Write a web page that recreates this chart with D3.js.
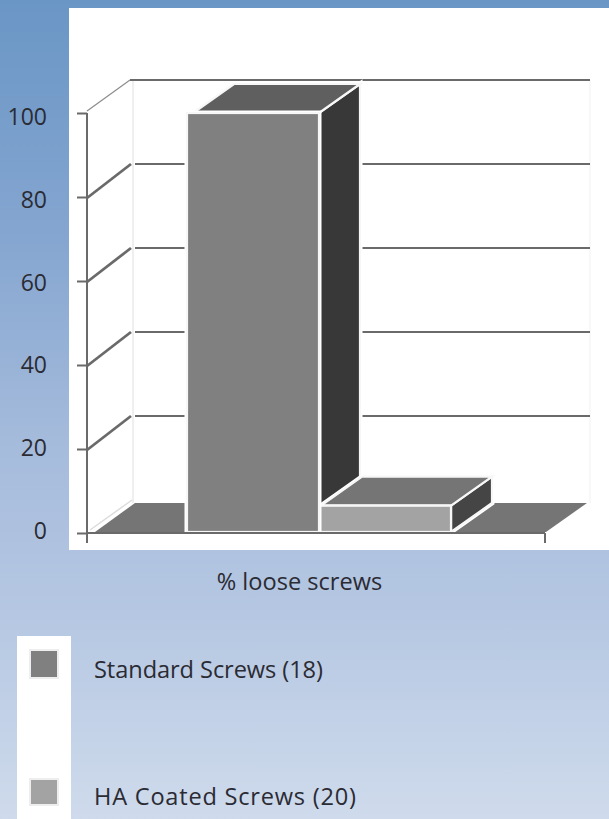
<!DOCTYPE html>
<html><head><meta charset="utf-8">
<script src="https://cdn.jsdelivr.net/npm/d3@7/dist/d3.min.js"></script>
<style>html,body{margin:0;padding:0;background:#fff;overflow:hidden}svg{display:block}
text{font-family:"Open Sans",sans-serif;fill:#2b2b33}</style></head><body>
<div id="c"></div>
<script>
const categories = ["Standard Screws (18)", "HA Coated Screws (20)"];
const values = [100, 6.5];
const tickValues = [0, 20, 40, 60, 80, 100];
const xLabel = "% loose screws";
const frontColors = ["#808080", "#a3a3a3"];
const topColors = ["#5f5f5f", "#747474"];
const sideColors = ["#383838", "#454545"];

const W = 609, H = 819;
const svg = d3.select("#c").append("svg").attr("width", W).attr("height", H);
const defs = svg.append("defs");
const grad = defs.append("linearGradient").attr("id", "bg").attr("x1", 0).attr("x2", 0).attr("y1", 0).attr("y2", 1);
[[0, "#6a96c5"], [0.28, "#84a5d0"], [0.55, "#a6bcdc"], [0.75, "#b5c7e2"], [1, "#cfdbec"]]
  .forEach(([o, c]) => grad.append("stop").attr("offset", o).attr("stop-color", c));
defs.append("filter").attr("id", "soft").append("feGaussianBlur").attr("stdDeviation", 0.5);

svg.append("rect").attr("width", W).attr("height", H).attr("fill", "url(#bg)");
svg.append("rect").attr("x", 69).attr("y", 8).attr("width", W - 69).attr("height", 542).attr("fill", "#fff");

const y = d3.scaleLinear().domain([0, 100]).range([533, 113]);
const labelY = d3.scaleLinear().domain([0, 100]).range([531, 116.5]);
const x = d3.scaleBand().domain(categories).range([187, 451]).padding(0);
const depthX = 46, depthY = -33, barDX = 41, barDY = -29;
const floorBack = y(0) - 30;
const axisColor = "#6b6b6b";
const pts = a => a.map(p => p.join(",")).join(" ");

const g = svg.append("g").attr("filter", "url(#soft)");

// back wall edges
g.append("line").attr("x1", 133).attr("x2", 133).attr("y1", y(100) + depthY).attr("y2", floorBack)
  .attr("stroke", "#efefef").attr("stroke-width", 2);
g.append("line").attr("x1", 590).attr("x2", 590).attr("y1", y(100) + depthY).attr("y2", floorBack)
  .attr("stroke", "#f6f6f6").attr("stroke-width", 1.5);

// floor
g.append("polygon").attr("fill", "#757575")
  .attr("points", pts([[95, y(0) - 1], [135, floorBack], [587, floorBack], [546, y(0) - 1]]));
g.append("line").attr("x1", 90).attr("y1", y(0) - 3).attr("x2", 132).attr("y2", floorBack - 3)
  .attr("stroke", "#dcdcdc").attr("stroke-width", 1.5);

// gridlines: slanted and back
tickValues.filter(t => t > 0).forEach(t => {
  const wide = t === 100;
  g.append("line").attr("x1", 87).attr("y1", y(t) + (wide ? -2 : 1))
    .attr("x2", wide ? 130 : 131).attr("y2", y(t) + depthY)
    .attr("stroke", wide ? "#8c8c8c" : axisColor).attr("stroke-width", wide ? 1.2 : 2.8);
  g.append("line").attr("x1", wide ? 130 : 135).attr("x2", 590)
    .attr("y1", y(t) + depthY).attr("y2", y(t) + depthY)
    .attr("stroke", axisColor).attr("stroke-width", 2);
});

// bars: side and top faces first, front faces last so they sit on top
const topInset = [6, 2];
categories.forEach((c, i) => {
  const x0 = x(c), x1 = x0 + x.bandwidth(), yt = y(values[i]), yb = y(0) - 1;
  const side = [[x1, yt], [x1 + barDX, yt + barDY], [x1 + barDX, yb + barDY], [x1, yb]];
  const top = [[x0 + topInset[i], yt], [x0 + topInset[i] + barDX, yt + barDY], [x1 + barDX, yt + barDY], [x1, yt]];
  const halo = g.append("g").attr("fill", "#fff").attr("stroke", "#fff").attr("stroke-width", 5);
  halo.append("polygon").attr("points", pts(side));
  halo.append("polygon").attr("points", pts(top));
  const bar = g.append("g").attr("stroke", "#f7f7f7").attr("stroke-width", 2.2);
  bar.append("polygon").attr("fill", sideColors[i]).attr("points", pts(side));
  bar.append("polygon").attr("fill", topColors[i]).attr("points", pts(top));
});
categories.slice().reverse().forEach(c => {
  const i = categories.indexOf(c);
  const yt = y(values[i]), yb = y(0) - 1;
  g.append("rect").attr("fill", "#fff").attr("stroke", "#fff").attr("stroke-width", i === 0 ? 5 : 2.2)
    .attr("x", x(c)).attr("y", yt).attr("width", x.bandwidth()).attr("height", yb - yt);
  g.append("rect").attr("fill", frontColors[i]).attr("stroke", "#f7f7f7").attr("stroke-width", 2.2)
    .attr("x", x(c)).attr("y", yt).attr("width", x.bandwidth()).attr("height", yb - yt);
});

// axes
const yAxis = d3.axisLeft(y).tickValues(tickValues).tickSize(10).tickFormat(d3.format("d"));
const ya = svg.append("g").attr("transform", "translate(87,0)").call(yAxis);
ya.select(".domain").attr("stroke", axisColor).attr("stroke-width", 2).attr("d", "M0,113V543");
ya.selectAll(".tick line").attr("stroke", axisColor).attr("stroke-width", 2);
ya.selectAll(".tick text").remove();
ya.attr("filter", "url(#soft)");
svg.append("g").selectAll("text").data(tickValues).join("text")
  .attr("x", 47).attr("y", d => labelY(d)).attr("dy", "0.36em").attr("text-anchor", "end")
  .style("font-size", "23px").text(d3.format("d"));

const base = svg.append("g").attr("filter", "url(#soft)");
base.append("line").attr("x1", 87).attr("x2", 545).attr("y1", y(0)).attr("y2", y(0))
  .attr("stroke", axisColor).attr("stroke-width", 2);
base.append("line").attr("x1", 545).attr("x2", 545).attr("y1", y(0)).attr("y2", y(0) + 10)
  .attr("stroke", axisColor).attr("stroke-width", 2);

svg.append("text").attr("x", 299.5).attr("y", 590).attr("text-anchor", "middle")
  .style("font-size", "23.6px").text(xLabel);

// legend
svg.append("rect").attr("x", 17).attr("y", 636).attr("width", 54).attr("height", H - 636).attr("fill", "#fff");
const legendY = d3.scalePoint().domain(categories).range([664, 793]);
const legendTextY = d3.scalePoint().domain(categories).range([678, 805]);
const legendTextWidth = [229, 262];
categories.forEach((c, i) => {
  const cy = legendY(c);
  svg.append("rect").attr("x", 30).attr("y", cy - 14).attr("width", 28).attr("height", i === 0 ? 28 : 26)
    .attr("fill", frontColors[i]).attr("stroke", "#eeeeee").attr("stroke-width", 2);
  svg.append("text").attr("x", 94).attr("y", legendTextY(c)).style("font-size", "23.6px")
    .attr("textLength", legendTextWidth[i]).attr("lengthAdjust", "spacing").text(c);
});
</script></body></html>
